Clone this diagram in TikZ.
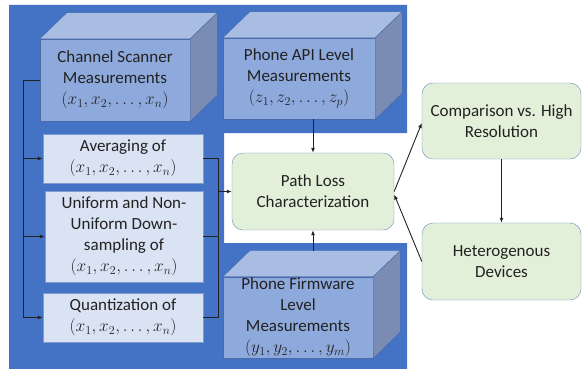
\documentclass[tikz,border=0pt]{standalone}
\usepackage{amsmath}
\usepackage{amssymb}
\usepackage{fontspec}
\setmainfont{Carlito}
\usetikzlibrary{arrows.meta,calc}

\definecolor{bgblue}{HTML}{4472C4}
\definecolor{cubefront}{HTML}{8EA9DB}
\definecolor{cubetop}{HTML}{A9BDE3}
\definecolor{cubeside}{HTML}{7A8CB4}
\definecolor{cubeedge}{HTML}{4A6AA8}
\definecolor{boxfill}{HTML}{DAE3F3}
\definecolor{boxedge}{HTML}{7F9CCF}
\definecolor{resfill}{HTML}{E2EFD9}
\definecolor{resedge}{HTML}{6C8EBF}
\definecolor{txt}{HTML}{222222}

\tikzset{
  front/.style={draw=cubeedge, fill=cubefront, align=center, text=txt, inner sep=1pt,
    font=\fontsize{17}{21}\selectfont},
  procbox/.style={draw=boxedge, fill=boxfill, align=center, text=txt, inner sep=1pt,
    minimum width=160, font=\fontsize{17}{21}\selectfont},
  result/.style={draw=resedge, fill=resfill, rounded corners=11pt, align=center, text=txt,
    minimum width=160, font=\fontsize{17}{21}\selectfont},
  link/.style={draw=txt, line width=0.9pt, -{Latex[length=5pt,width=4pt]}},
  wire/.style={draw=txt, line width=0.9pt}
}

% top and right faces of a box drawn behind the front node
\newcommand{\cubefaces}[1]{%
  \draw[cubeedge, fill=cubetop] (#1.north west) -- ++(27,-26) -- ($(#1.north east)+(27,-26)$)
    -- (#1.north east) -- cycle;
  \draw[cubeedge, fill=cubeside] (#1.north east) -- ++(27,-26) -- ($(#1.south east)+(27,-26)$)
    -- (#1.south east) -- cycle;
}

\begin{document}
\begin{tikzpicture}[x=1pt, y=-1pt]
\useasboundingbox (0,0) rectangle (583,369);

% blue panel with the notch for the path loss block
\fill[bgblue] (9,5) -- (407,5) -- (407,133) -- (224,133) -- (224,243) -- (407,243)
  -- (407,369) -- (9,369) -- cycle;

% measurement sources
\node[front, minimum width=150, minimum height=82] (scan) at (115,80)
  {Channel Scanner\\Measurements\\$(x_1, x_2, \ldots, x_n)$};
\cubefaces{scan}
\node[front, minimum width=152, minimum height=81] (api) at (299,78.5)
  {Phone API Level\\Measurements\\$(z_1, z_2, \ldots, z_p)$};
\cubefaces{api}
\node[front, minimum width=150, minimum height=81] (fw) at (298,317.5)
  {Phone Firmware\\Level\\Measurements\\$(y_1, y_2, \ldots, y_m)$};
\cubefaces{fw}

% processing of the scanner data
\node[procbox, minimum height=49] (avg) at (123,158.5)
  {Averaging of\\$(x_1, x_2, \ldots, x_n)$};
\node[procbox, minimum width=158, minimum height=91] (down) at (124,236.5)
  {Uniform and Non-\\Uniform Down-\\sampling of\\$(x_1, x_2, \ldots, x_n)$};
\node[procbox, minimum height=49] (quant) at (123,317.5)
  {Quantization of\\$(x_1, x_2, \ldots, x_n)$};

% results
\node[result, minimum width=162, minimum height=77] (path) at (313,191.5)
  {Path Loss\\Characterization};
\node[result, minimum width=159, minimum height=76] (comp) at (501.5,121)
  {Comparison vs. High\\Resolution};
\node[result, minimum width=159, minimum height=77] (het) at (501.5,261.5)
  {Heterogenous\\Devices};

% left bus
\coordinate (ltop) at (23,80);
\coordinate (lbot) at (23,317.5);
\draw[wire] (scan.west) -- (ltop) -- (lbot);
\draw[link] (ltop |- avg.west) -- (avg.west);
\draw[link] (ltop |- down.west) -- (down.west);
\draw[link] (lbot) -- (quant.west);

% right bus
\coordinate (rtop) at (218,158.5);
\coordinate (rbot) at (218,317.5);
\draw[wire] (avg.east) -- (rtop) -- (rbot) -- (quant.east);
\draw[wire] (down.east) -- (rtop |- down.east);
\draw[link] (rtop |- path.west) -- (path.west);

% phone measurements into path loss
\coordinate (fwtop) at ($(fw.north)+(0,-26)$);
\draw[link] (path.north |- api.south) -- (path.north);
\draw[link] (path.south |- fwtop) -- (path.south);

% path loss to results
\draw[link] (path.east) -- ($(comp.west)+(0,2)$);
\draw[link] (het.west) -- ($(path.east)+(0,3)$);
\draw[link] (comp.south) -- (het.north);
\end{tikzpicture}
\end{document}
